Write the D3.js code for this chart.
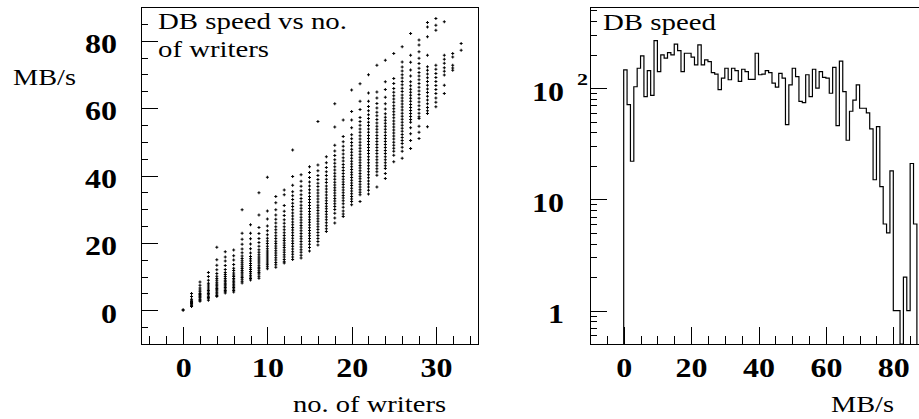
<!DOCTYPE html>
<html>
<head>
<meta charset="utf-8">
<script src="https://cdn.jsdelivr.net/npm/d3@7"></script>
<style>
  body { margin: 0; background: #fff; }
  text { font-family: "Liberation Serif", "Times New Roman", serif; fill: #000; }
</style>
</head>
<body>
<div id="chart"></div>
<script>
// number of writers (one column of points each)
var writerCounts = [0, 1, 2, 3, 4, 5, 6, 7, 8, 9, 10, 11, 12, 13, 14, 15, 16,
    17, 18, 19, 20, 21, 22, 23, 24, 25, 26, 27, 28, 29, 30, 31, 32, 33];

var dbSpeeds = [
    [0.0, 0.2],
    [5.0, 4.1, 3.3, 3.0, 2.6, 2.3, 2.0, 1.8, 1.5, 1.3, 1.1],
    [8.4, 7.4, 6.6, 6.0, 5.5, 5.0, 4.7, 4.3, 4.0, 3.7, 3.3, 3.0, 2.7],
    [11.2, 10.0, 8.9, 8.0, 7.5, 6.9, 6.3, 5.9, 5.4, 5.0, 4.6, 4.2, 3.8, 3.4, 3.0],
    [18.7, 15.0, 13.4, 12.0, 10.9, 10.1, 9.4, 8.9, 8.3, 7.8, 7.4, 6.9, 6.5, 6.1, 5.7, 5.2, 4.8, 4.4, 4.1],
    [17.4, 15.8, 14.6, 13.3, 12.1, 11.2, 10.6, 10.0, 9.4, 8.9, 8.5, 8.0, 7.6, 7.2, 6.8, 6.3, 5.9, 5.5, 5.1],
    [17.9, 16.2, 14.9, 13.6, 12.5, 11.8, 11.1, 10.5, 10.0, 9.4, 9.0, 8.5, 8.1, 7.6, 7.2, 6.8, 6.3, 5.9, 5.4],
    [29.8, 22.9, 21.1, 19.6, 18.2, 17.1, 16.1, 15.4, 14.7, 14.1, 13.5, 12.9, 12.4, 11.8, 11.3, 10.8, 10.2, 9.7, 9.2, 8.6, 8.1],
    [25.4, 22.9, 21.2, 19.7, 18.3, 17.0, 16.0, 15.3, 14.6, 13.9, 13.3, 12.6, 12.1, 11.5, 11.0, 10.4, 9.9, 9.4, 9.0],
    [34.9, 28.3, 24.6, 22.8, 21.3, 20.1, 19.0, 18.0, 17.2, 16.5, 15.8, 15.2, 14.6, 14.0, 13.4, 12.8, 12.3, 11.7, 11.2, 10.8, 10.1, 9.5],
    [39.5, 29.5, 27.1, 25.0, 23.6, 22.4, 21.4, 20.6, 19.8, 19.0, 18.3, 17.6, 17.0, 16.4, 15.8, 15.2, 14.6, 14.0, 13.5, 12.9, 12.3],
    [33.8, 31.9, 29.8, 28.3, 27.0, 25.9, 24.8, 23.9, 23.0, 22.1, 21.3, 20.5, 19.8, 19.1, 18.4, 17.7, 17.0, 16.3, 15.6, 14.9, 14.2, 13.5, 12.8],
    [35.7, 34.3, 31.1, 29.4, 28.1, 26.9, 25.8, 24.8, 23.9, 23.0, 22.2, 21.4, 20.7, 20.0, 19.3, 18.6, 17.9, 17.2, 16.5, 15.8, 15.1, 14.4, 14.0],
    [47.6, 39.7, 37.1, 35.2, 34.0, 32.9, 31.8, 30.8, 29.8, 28.9, 28.0, 27.1, 26.2, 25.4, 24.6, 23.8, 23.0, 22.2, 21.4, 20.6, 19.8, 19.0, 18.2, 17.4, 16.6, 15.8, 15.1],
    [40.2, 38.3, 36.8, 35.5, 34.3, 33.2, 32.2, 31.2, 30.3, 29.4, 28.5, 27.6, 26.8, 26.0, 25.2, 24.4, 23.6, 22.8, 22.0, 21.2, 20.4, 19.6, 18.8, 18.0, 17.2, 16.3, 15.5],
    [42.6, 40.9, 39.4, 38.1, 36.9, 35.8, 34.8, 33.8, 32.9, 32.0, 31.1, 30.2, 29.3, 28.5, 27.7, 26.9, 26.1, 25.3, 24.5, 23.7, 22.9, 22.1, 21.3, 20.5, 19.6, 18.6, 17.6],
    [56.0, 43.1, 41.4, 40.0, 38.8, 37.7, 36.7, 35.7, 34.8, 33.9, 33.0, 32.1, 31.2, 30.4, 29.6, 28.8, 28.0, 27.2, 26.4, 25.6, 24.8, 24.0, 23.1, 22.2, 21.3, 20.4, 19.4],
    [45.6, 43.8, 42.4, 41.1, 40.0, 38.9, 37.9, 36.9, 36.0, 35.1, 34.2, 33.3, 32.5, 31.7, 30.9, 30.1, 29.3, 28.5, 27.7, 26.9, 26.0, 25.1, 24.2, 23.4],
    [61.3, 54.4, 49.0, 47.3, 45.9, 44.7, 43.6, 42.6, 41.6, 40.7, 39.8, 38.9, 38.0, 37.2, 36.4, 35.6, 34.8, 34.0, 33.2, 32.4, 31.6, 30.8, 29.9, 28.8, 27.4, 25.9],
    [56.5, 51.6, 50.0, 48.7, 47.5, 46.4, 45.3, 44.3, 43.3, 42.4, 41.5, 40.6, 39.7, 38.9, 38.1, 37.3, 36.5, 35.7, 34.9, 34.1, 33.3, 32.5, 31.6, 30.6, 29.5, 28.6, 27.8],
    [65.4, 59.0, 56.5, 54.2, 52.1, 50.9, 49.8, 48.8, 47.8, 46.9, 46.0, 45.1, 44.2, 43.4, 42.6, 41.8, 41.0, 40.2, 39.4, 38.6, 37.8, 37.0, 36.2, 35.4, 34.6, 33.8, 33.0, 32.3, 31.3],
    [67.2, 62.0, 59.6, 57.2, 56.0, 54.9, 53.8, 52.8, 51.8, 50.8, 49.9, 49.0, 48.1, 47.2, 46.3, 45.4, 44.6, 43.8, 43.0, 42.2, 41.4, 40.6, 39.8, 39.0, 38.2, 37.4, 36.6, 35.8, 35.0, 34.3, 32.3],
    [69.9, 64.5, 62.0, 60.5, 59.2, 58.0, 56.9, 55.8, 54.8, 53.8, 52.8, 51.9, 51.0, 50.1, 49.2, 48.3, 47.4, 46.5, 45.6, 44.7, 43.8, 42.9, 42.0, 41.1, 40.2, 39.3, 38.4, 37.5, 36.6, 35.6, 34.5],
    [72.7, 64.8, 63.0, 61.4, 60.0, 58.8, 57.7, 56.6, 55.6, 54.6, 53.7, 52.8, 51.9, 51.0, 50.1, 49.2, 48.3, 47.4, 46.5, 45.6, 44.7, 43.8, 42.9, 42.0, 41.1, 40.1, 36.6],
    [74.2, 67.8, 65.5, 63.2, 61.3, 59.7, 58.3, 57.3, 56.4, 55.5, 54.6, 53.7, 52.8, 51.9, 51.0, 50.1, 49.2, 48.3, 47.4, 46.5, 45.6, 44.7, 43.8, 42.9, 42.1, 40.6, 39.1],
    [76.2, 68.8, 67.3, 65.8, 64.7, 63.7, 62.7, 61.7, 60.7, 59.8, 58.9, 58.0, 57.1, 56.2, 55.3, 54.4, 53.5, 52.6, 51.7, 50.8, 49.9, 49.0, 48.1, 47.2, 46.0, 44.1],
    [78.2, 73.7, 72.2, 71.0, 69.9, 68.9, 67.9, 66.9, 65.9, 64.9, 63.9, 63.0, 62.1, 61.2, 60.3, 59.4, 58.5, 57.6, 56.7, 55.8, 54.9, 54.0, 53.1, 52.2, 51.3, 50.4, 49.5, 48.4, 47.2, 45.1],
    [82.1, 75.7, 73.6, 71.3, 69.5, 67.8, 66.6, 65.6, 64.7, 63.8, 62.9, 62.0, 61.1, 60.2, 59.3, 58.4, 57.5, 56.6, 55.8, 54.2, 52.4, 50.4, 48.0],
    [80.2, 78.7, 76.7, 74.8, 73.2, 71.8, 70.6, 69.5, 68.4, 67.3, 66.2, 65.1, 64.0, 62.9, 61.8, 60.7, 59.6, 58.5, 57.4, 56.9, 54.6, 52.8, 51.0],
    [85.4, 84.1, 81.2, 75.7, 72.3, 71.2, 70.1, 69.0, 67.9, 66.8, 65.7, 64.6, 63.5, 62.4, 61.3, 60.2, 59.2, 58.4, 54.5],
    [86.6, 84.6, 83.1, 72.7, 71.5, 70.3, 69.1, 67.9, 66.7, 65.5, 64.3, 63.0, 61.7, 60.4],
    [85.6, 75.7, 74.5, 73.3, 72.0, 70.9, 69.8, 66.8, 64.3],
    [76.2, 75.2, 72.7, 71.9, 71.2],
    [79.2, 77.2]
];

// histogram of DB speed: entries per 1 MB/s bin, starting at 0 MB/s
var binCounts = [146, 71, 22, 103, 151, 195, 84, 144, 86, 268,
    141, 199, 186, 209, 199, 249, 218, 141, 206, 206,
    190, 162, 245, 162, 180, 173, 138, 134, 97, 123,
    151, 119, 151, 144, 115, 148, 141, 120, 120, 206,
    132, 134, 144, 138, 111, 102, 136, 123, 47, 107,
    151, 127, 76, 74, 132, 84, 148, 100, 141, 125,
    123, 90, 154, 46, 175, 93, 34, 62, 78, 107,
    66, 66, 60, 43, 15, 45, 13, 6, 5, 18,
    1, 1, 0, 2, 1, 21, 6];

// tick labels
var scatterXTicks = [0, 10, 20, 30];
var scatterYTicks = [0, 20, 40, 60, 80];
var histXTicks = [0, 20, 40, 60, 80];
var histYTicks = [1, 10, 100];

var svg = d3.select("#chart").append("svg").attr("width", 919).attr("height", 419);

var tickFont = '"Liberation Serif", "Times New Roman", serif';

// style an axis group like the ROOT output (wide bold digits)
function styleAxis(g) {
    g.select(".domain").remove();
    g.selectAll("line").attr("stroke", "#000").attr("shape-rendering", "crispEdges");
    g.selectAll("text")
        .attr("font-family", tickFont)
        .attr("font-weight", "bold")
        .attr("font-size", 27)
        .attr("fill", "#000")
        .attr("lengthAdjust", "spacingAndGlyphs")
        .attr("textLength", function () { return this.textContent.length * 16; });
}

// ---------------- left panel: speed vs writers ----------------
var x1 = d3.scaleLinear().domain([-5, 35]).range([141, 478]);
var y1 = d3.scaleLinear().domain([-10, 90]).range([344, 7]);

var points = [];
writerCounts.forEach(function (n, i) {
    dbSpeeds[i].forEach(function (v) { points.push({ n: n, v: v }); });
});

var marker = d3.symbol().type(d3.symbolCross).size(5);
svg.append("g").selectAll("path")
    .data(points)
    .enter()
    .append("path")
    .attr("transform", function (d) { return "translate(" + x1(d.n) + "," + y1(d.v) + ")"; })
    .attr("d", marker)
    .style("fill", "#000");

// x axis (major + minor ticks pointing inwards)
svg.append("g")
    .attr("transform", "translate(0,344)")
    .call(d3.axisBottom(x1).tickValues(d3.range(-4, 35, 2)).tickSize(-8).tickFormat(""))
    .call(styleAxis);
svg.append("g")
    .attr("transform", "translate(0,344)")
    .call(d3.axisBottom(x1).tickValues(scatterXTicks).tickSize(-17).tickPadding(33))
    .call(styleAxis)
    .selectAll("text").attr("dy", 0);

// y axis
svg.append("g")
    .attr("transform", "translate(141,0)")
    .call(d3.axisLeft(y1).tickValues(d3.range(-5, 90, 5)).tickSize(-7).tickFormat(""))
    .call(styleAxis);
svg.append("g")
    .attr("transform", "translate(141,0)")
    .call(d3.axisLeft(y1).tickValues(scatterYTicks).tickSize(-17).tickPadding(24))
    .call(styleAxis)
    .selectAll("text").attr("dy", "0.44em");

svg.append("rect")
    .attr("x", 141.5).attr("y", 7.5)
    .attr("width", 337).attr("height", 337)
    .attr("fill", "none").attr("stroke", "#000");

// titles and axis labels
svg.append("text").attr("x", 158).attr("y", 29).attr("font-size", 23)
    .attr("textLength", 189).attr("lengthAdjust", "spacingAndGlyphs").text("DB speed vs no.");
svg.append("text").attr("x", 158).attr("y", 57).attr("font-size", 23)
    .attr("textLength", 111).attr("lengthAdjust", "spacingAndGlyphs").text("of writers");
svg.append("text").attr("x", 13).attr("y", 85).attr("font-size", 23)
    .attr("textLength", 63).attr("lengthAdjust", "spacingAndGlyphs").text("MB/s");
svg.append("text").attr("x", 293).attr("y", 412).attr("font-size", 23)
    .attr("textLength", 153).attr("lengthAdjust", "spacingAndGlyphs").text("no. of writers");

// ---------------- right panel: speed histogram ----------------
var x2 = d3.scaleLinear().domain([-10, 90]).range([590, 927]);
var y2 = d3.scaleLog().domain([0.5, 537]).range([344, 7]);

svg.append("clipPath").attr("id", "histClip")
    .append("rect").attr("x", 590).attr("y", 7).attr("width", 337).attr("height", 337);

var steps = [{ x: 0, v: 0 }];
binCounts.forEach(function (c, i) { steps.push({ x: i, v: c }); });
steps.push({ x: binCounts.length, v: binCounts[binCounts.length - 1] });
steps.push({ x: binCounts.length, v: 0 });

var histLine = d3.line()
    .x(function (d) { return x2(d.x); })
    .y(function (d) { return d.v > 0 ? y2(d.v) : 344; })
    .curve(d3.curveStepAfter);

svg.append("path")
    .datum(steps)
    .attr("clip-path", "url(#histClip)")
    .attr("d", histLine)
    .attr("fill", "none")
    .attr("stroke", "#000")
    .attr("stroke-width", 1.2);

// x axis
svg.append("g")
    .attr("transform", "translate(0,344)")
    .call(d3.axisBottom(x2).tickValues(d3.range(-5, 90, 5)).tickSize(-8).tickFormat(""))
    .call(styleAxis);
svg.append("g")
    .attr("transform", "translate(0,344)")
    .call(d3.axisBottom(x2).tickValues(histXTicks).tickSize(-17).tickPadding(33))
    .call(styleAxis)
    .selectAll("text").attr("dy", 0);

// y axis (log)
var minorLog = [0.6, 0.7, 0.8, 0.9, 2, 3, 4, 5, 6, 7, 8, 9,
    20, 30, 40, 50, 60, 70, 80, 90, 200, 300, 400, 500];
svg.append("g")
    .attr("transform", "translate(590,0)")
    .call(d3.axisLeft(y2).tickValues(minorLog).tickSize(-7).tickFormat(""))
    .call(styleAxis);
svg.append("g")
    .attr("transform", "translate(590,0)")
    .call(d3.axisLeft(y2).tickValues(histYTicks).tickSize(-17).tickPadding(26)
        .tickFormat(function (d) { return d === 100 ? "10" : String(d); }))
    .call(styleAxis)
    .selectAll("text").attr("dy", "0.44em");

// exponent of the 10^2 label
svg.append("text")
    .attr("x", 577).attr("y", y2(100) - 3)
    .attr("font-size", 17).attr("font-weight", "bold")
    .attr("textLength", 11).attr("lengthAdjust", "spacingAndGlyphs")
    .text("2");

svg.append("rect")
    .attr("x", 590.5).attr("y", 7.5)
    .attr("width", 337).attr("height", 337)
    .attr("fill", "none").attr("stroke", "#000");

svg.append("text").attr("x", 603).attr("y", 30).attr("font-size", 23)
    .attr("textLength", 113).attr("lengthAdjust", "spacingAndGlyphs").text("DB speed");
svg.append("text").attr("x", 831).attr("y", 412).attr("font-size", 23)
    .attr("textLength", 63).attr("lengthAdjust", "spacingAndGlyphs").text("MB/s");
</script>
</body>
</html>
